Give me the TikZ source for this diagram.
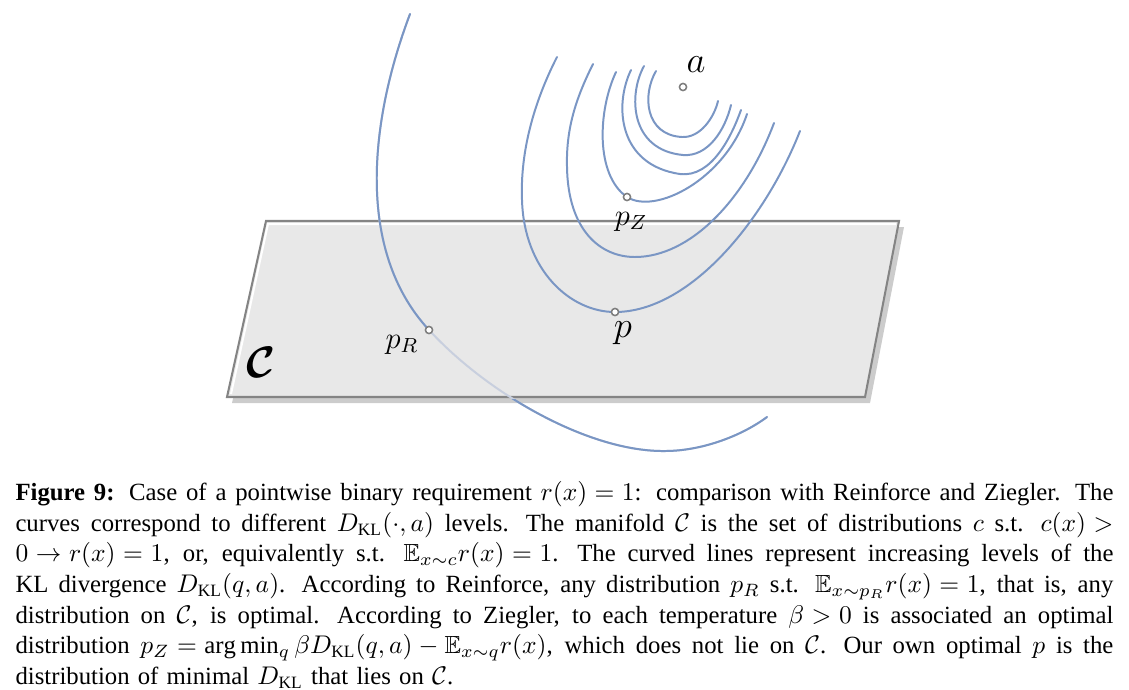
\documentclass[tikz,border=0pt]{standalone}
\usepackage{amsmath}
\usepackage{amssymb}
\usepackage{fontspec}
\setmainfont{Liberation Serif}
\usetikzlibrary{positioning}

\definecolor{levelblue}{RGB}{122,150,196}
\definecolor{fadedblue}{RGB}{200,207,222}
\definecolor{planegray}{RGB}{232,232,232}
\definecolor{shadowgray}{RGB}{204,204,204}
\definecolor{edgegray}{RGB}{132,132,132}
\definecolor{dotgray}{RGB}{125,125,125}

\newcommand{\capline}[1]{\makebox[\linewidth][s]{%
  \thickmuskip=5mu plus 1mu\relax\medmuskip=4mu plus 1mu\relax
  \spaceskip=0.25em plus 0.6em minus 0.08em\relax
  \xspaceskip=0.45em plus 0.8em minus 0.08em\relax #1}}

\begin{document}
\begin{tikzpicture}[
    x=0.392pt, y=-0.392pt,
    level/.style={draw=levelblue, line width=0.78pt, line cap=round},
    dot/.style={circle, draw=dotgray, fill=white, line width=0.6pt, minimum size=2.8pt, inner sep=0pt},
    lbl/.style={inner sep=0pt, anchor=base},
    caption/.style={inner sep=0pt, anchor=north west, text width=430.4pt, align=left,
        font=\fontsize{9.7}{12}\selectfont}
]
\useasboundingbox (0,0) rectangle (1129,689);

% Plane C
\fill[shadowgray] (271,227) -- (904,227) -- (870,403) -- (232,403) -- cycle;
\fill[planegray] (266,221) -- (899,221) -- (865,397) -- (227,397) -- cycle;
\draw[white, line width=0.8pt] (231,394) -- (268,224) -- (896,224);
\draw[edgegray, line width=0.8pt] (266,221) -- (899,221) -- (865,397) -- (227,397) -- cycle;
\node[lbl] (cC) at (261,377) {\LARGE$\boldsymbol{\mathcal{C}}$};

% Outer level: faded where it runs under the plane
\def\outerlevel{(410,14) .. controls (370,120) and (355,250) .. (429,330)
    .. controls (489,395) and (590,452) .. (665,451)
    .. controls (700,451) and (740,437) .. (767,417)}
\draw[level, draw=fadedblue] \outerlevel;
\begin{scope}
  \clip (0,0) rectangle (1129,330) (0,399) rectangle (1129,689);
  \draw[level] \outerlevel;
\end{scope}

% Level curves
\draw[level] (557,57) .. controls (535,100) and (520,150) .. (522,200)
    .. controls (524,270) and (570,312) .. (615,312)
    .. controls (690,312) and (765,220) .. (800,131);
\draw[level] (593,64) .. controls (575,100) and (566,130) .. (567,167)
    .. controls (568,230) and (600,257) .. (635,257)
    .. controls (690,257) and (745,200) .. (774,123);
\draw[level] (616,72) .. controls (598,110) and (595,175) .. (627,197)
    .. controls (655,215) and (725,180) .. (747,114);
\draw[level] (631,70) .. controls (614,105) and (618,165) .. (680,174)
    .. controls (712,178) and (732,135) .. (741,110);
\draw[level] (644,66) .. controls (628,95) and (630,150) .. (683,155)
    .. controls (708,157) and (725,130) .. (731,105);
\draw[level] (656,71) .. controls (642,95) and (645,135) .. (682,137)
    .. controls (700,138) and (714,118) .. (718,101);

% Points
\node[dot] (a) at (683,87) {};
\node[dot] (pZ) at (627,197) {};
\node[dot] (p) at (615,312) {};
\node[dot] (pR) at (429,330) {};

% Labels
\node[lbl] (la) at (696,72) {\Large$a$};
\node[lbl] (lpZ) at (631,225) {\large$p_Z$};
\node[lbl] (lp) at (623,337) {\Large$p$};
\node[lbl] (lpR) at (402,348) {\large$p_R$};

% Caption
\node[caption] (cap) at (15,481) {%
\capline{\textbf{Figure 9:} Case of a pointwise binary requirement $r(x) = 1$: comparison with Reinforce and Ziegler. The}\\
\capline{curves correspond to different $D_{\mathrm{KL}}(\cdot,a)$ levels. The manifold $\mathcal{C}$ is the set of distributions $c$ s.t. $c(x) >$}\\
\capline{$0 \rightarrow r(x) = 1$, or, equivalently s.t. $\mathbb{E}_{x\sim c}r(x) = 1$. The curved lines represent increasing levels of the}\\
\capline{KL divergence $D_{\mathrm{KL}}(q,a)$. According to Reinforce, any distribution $p_R$ s.t. $\mathbb{E}_{x\sim p_R}r(x) = 1$, that is, any}\\
\capline{distribution on $\mathcal{C}$, is optimal. According to Ziegler, to each temperature $\beta > 0$ is associated an optimal}\\
\capline{distribution $p_Z = \arg\min_q \beta D_{\mathrm{KL}}(q,a) - \mathbb{E}_{x\sim q}r(x)$, which does not lie on $\mathcal{C}$. Our own optimal $p$ is the}\\
distribution of minimal $D_{\mathrm{KL}}$ that lies on $\mathcal{C}$.};

\end{tikzpicture}
\end{document}
